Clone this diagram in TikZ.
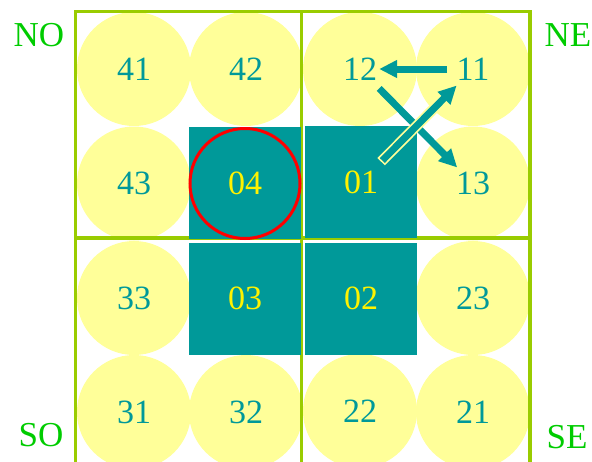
\documentclass[tikz,border=0pt]{standalone}
\usepackage{fontspec}
\setmainfont{Liberation Serif}
\usepackage{xcolor}
\usepackage{tikz}
\usetikzlibrary{arrows.meta, calc}

\definecolor{cellteal}{RGB}{0,153,153}
\definecolor{cellyellow}{RGB}{255,255,153}
\definecolor{gridgreen}{RGB}{153,204,0}
\definecolor{labelgreen}{RGB}{0,204,0}

\begin{document}
\begin{tikzpicture}[
    x=1pt, y=-1pt,
    spot/.style={circle, fill=cellyellow, minimum size=114pt, inner sep=0pt, text=cellteal, font=\fontsize{34}{34}\selectfont},
    cell/.style={rectangle, fill=cellteal, minimum size=112pt, inner sep=0pt, text=yellow, font=\fontsize{34}{34}\selectfont},
    ring/.style={circle, draw=red, line width=3pt, minimum size=110pt, inner sep=0pt},
    grid/.style={draw=gridgreen, line width=3.5pt},
    corner/.style={text=labelgreen, font=\fontsize{35}{35}\selectfont},
    move/.style={draw=cellteal, line width=7pt, -{Triangle[length=18pt, width=17pt]}},
    edge/.style={draw=cellyellow, line width=10.5pt, -{Triangle[length=23pt, width=23pt]}},
]
\useasboundingbox (0,0) rectangle (592,461);

\node[spot] (c41) at (134,69) {41};
\node[spot] (c42) at (246,69) {42};
\node[spot] (c12) at (360,69) {12};
\node[spot] (c11) at (473,69) {11};
\node[spot] (c43) at (134,183.5) {43};
\node[spot] (c13) at (473,183.5) {13};
\node[spot] (c33) at (134,298) {33};
\node[spot] (c23) at (473,298) {23};
\node[spot] (c31) at (134,412) {31};
\node[spot] (c32) at (246,412) {32};
\node[spot] (c22) at (360,411) {22};
\node[spot] (c21) at (473,412) {21};

\draw[grid] (75.3,470) -- (75.3,11.7) -- (530,11.7) -- (530,470);
\draw[grid] (301.7,11.7) -- (301.7,470);
\draw[grid] (75.3,238) -- (530,238);

\node[cell] (c04) at (245,183) {04};
\node[cell] (c01) at (361,182) {01};
\node[cell] (c03) at (245,298.5) {03};
\node[cell] (c02) at (361,298.5) {02};

\node[ring] (home) at (245,183.5) {};

\node[corner] (no) at (39,35) {NO};
\node[corner] (ne) at (568,35) {NE};
\node[corner] (so) at (41,435) {SO};
\node[corner] (se) at (567,437) {SE};

\draw[move] ($(c11)!0.23!(c12)$) -- ($(c11)!0.83!(c12)$);
\draw[move] ($(c12)!0.17!(c13)$) -- ($(c12)!0.86!(c13)$);
\draw[edge] ($(c01)!0.18!(c11)$) -- ($(c01)!0.87!(c11)$);
\draw[move, shorten <=1.6pt, shorten >=2.6pt] ($(c01)!0.18!(c11)$) -- ($(c01)!0.87!(c11)$);

\end{tikzpicture}
\end{document}
